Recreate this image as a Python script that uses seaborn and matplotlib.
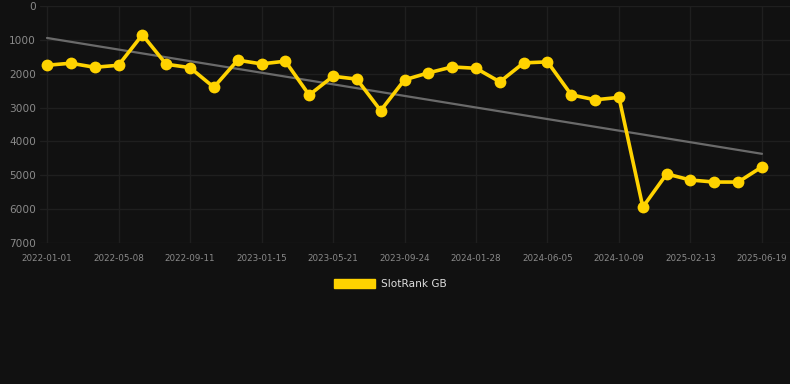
import numpy as np
import pandas as pd
import matplotlib
matplotlib.use("Agg")
import matplotlib.pyplot as plt
import matplotlib.patches as mpatches
import seaborn as sns

# ---- data ----
tick_labels = ["2022-01-01", "2022-05-08", "2022-09-11", "2023-01-15", "2023-05-21",
               "2023-09-24", "2024-01-28", "2024-06-05", "2024-10-09", "2025-02-13",
               "2025-06-19"]
rank_values = [1750, 1690, 1810, 1750, 850, 1720, 1820, 2400, 1600, 1710,
               1630, 2630, 2075, 2160, 3090, 2180, 1975, 1800, 1840, 2240,
               1680, 1650, 2625, 2770, 2700, 5940, 4960, 5140, 5200, 5200, 4750]
trend_values = [944, 4366]
series_name = "SlotRank GB"

# ---- styling ----
BG = "#111111"
GRID = "#1f1f1f"
TICK = "#8a8a8a"
GOLD = "#FFD300"

sns.set_theme(style="dark")
plt.rcParams["font.family"] = ["DejaVu Sans"]

fig = plt.figure(figsize=(7.9, 3.84), dpi=100, facecolor=BG)
ax = fig.add_axes([40 / 790, 1 - 243 / 384, 750 / 790, 237 / 384])
ax.set_facecolor(BG)

idx = np.arange(len(rank_values))
df = pd.DataFrame({"i": idx, "rank": rank_values})

# trend line
ax.plot([idx[0], idx[-1]], trend_values, color="#6a6a6a", lw=1.6, zorder=2)

sns.lineplot(data=df, x="i", y="rank", ax=ax, color=GOLD, lw=2.6,
             marker="o", markersize=8.5, markeredgewidth=0, zorder=3,
             legend=False)

ax.set_ylim(7000, 0)
ax.set_xlim(-0.294, 31.175)
ax.set_yticks(np.arange(0, 7001, 1000))
ax.set_yticklabels([str(v) for v in range(0, 7001, 1000)])
ax.set_xticks(idx[::3])
ax.set_xticklabels(tick_labels)
ax.set_xlabel("")
ax.set_ylabel("")

ax.grid(True, color=GRID, lw=1.0)
for s in ax.spines.values():
    s.set_visible(False)
ax.tick_params(axis="y", colors=TICK, labelsize=7.6, length=0, pad=3)
ax.tick_params(axis="x", colors=GRID, labelcolor=TICK, labelsize=6.3,
               length=6, width=1.0, pad=2)

handle = mpatches.Patch(facecolor=GOLD, edgecolor=GOLD, label=series_name)
leg = fig.legend(handles=[handle], loc="center", bbox_to_anchor=(0.494, 0.26),
                 frameon=False, fontsize=7.6, handlelength=3.9, handleheight=0.9,
                 handletextpad=0.6)
for t in leg.get_texts():
    t.set_color("#dddddd")

fig.savefig("out.png", dpi=100, facecolor=BG)
